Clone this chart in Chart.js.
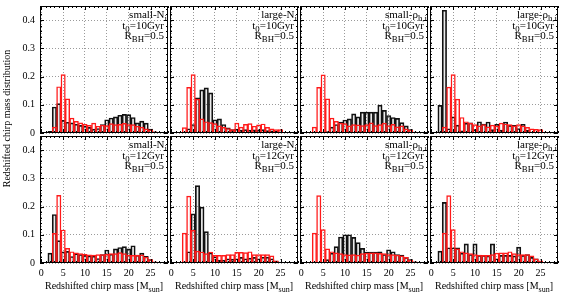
<!DOCTYPE html>
<html>
<head>
<meta charset="utf-8">
<script src="https://cdn.jsdelivr.net/npm/chart.js@4"></script>
<style>
  body { margin: 0; background: #fff; width: 563px; height: 292px; overflow: hidden; position: relative; }
  canvas { position: absolute; }
</style>
</head>
<body>
<canvas id="ytitle" width="16" height="292" style="left:0;top:0"></canvas>
<script>
// bin centres (chirp mass, 1 Msun bins)
const massBins = [1, 2, 3, 4, 5, 6, 7, 8, 9, 10, 11, 12, 13, 14, 15, 16, 17, 18, 19, 20, 21, 22, 23, 24, 25, 26, 27];
const xTicks = [0, 5, 10, 15, 20, 25];
const yTicks = [0, 0.1, 0.2, 0.3, 0.4];

const modelNames = ['small-N', 'large-N', 'small-ρ', 'large-ρ'];
const modelSubs = ['i', 'i', 'h,i', 'h,i'];
const ages = ['10Gyr', '12Gyr'];
const yTitle = 'Redshifted chirp mass distribution';

// t0 = 10 Gyr, black = model, red = comparison
const smallN10 = [0, 0.006, 0.092, 0.104, 0.045, 0.038, 0.036, 0.031, 0.027, 0.024, 0.02, 0.014, 0.016, 0.03, 0.047, 0.053, 0.057, 0.063, 0.066, 0.065, 0.055, 0.036, 0.042, 0.035, 0.014, 0.004, 0];
const redSmallN10 = [0, 0, 0.021, 0.164, 0.207, 0.121, 0.053, 0.041, 0.036, 0.031, 0.027, 0.035, 0.024, 0.028, 0.026, 0.033, 0.03, 0.031, 0.034, 0.03, 0.03, 0.024, 0.021, 0.015, 0.011, 0.004, 0];
const largeN10 = [0, 0, 0.003, 0.015, 0.03, 0.125, 0.153, 0.16, 0.142, 0.047, 0.05, 0.03, 0.018, 0.012, 0.014, 0.01, 0.012, 0.01, 0.011, 0.01, 0.012, 0.009, 0.008, 0.006, 0.004, 0.002, 0];
const redLargeN10 = [0, 0, 0.019, 0.162, 0.207, 0.12, 0.05, 0.04, 0.037, 0.033, 0.025, 0.02, 0.016, 0.012, 0.035, 0.021, 0.031, 0.033, 0.024, 0.029, 0.032, 0.02, 0.015, 0.012, 0.012, 0.002, 0];
const smallRho10 = [0, 0, 0, 0, 0.003, 0.005, 0.021, 0.03, 0.039, 0.046, 0.05, 0.068, 0.057, 0.074, 0.074, 0.074, 0.074, 0.099, 0.08, 0.062, 0.055, 0.052, 0.037, 0.025, 0.012, 0.003, 0];
const redSmallRho10 = [0, 0, 0.021, 0.162, 0.206, 0.121, 0.053, 0.041, 0.035, 0.033, 0.025, 0.03, 0.029, 0.026, 0.03, 0.036, 0.026, 0.03, 0.035, 0.026, 0.031, 0.022, 0.025, 0.015, 0.01, 0.003, 0];
const largeRho10 = [0, 0.098, 0.435, 0.015, 0.057, 0.028, 0.008, 0.035, 0.036, 0.012, 0.04, 0.032, 0.039, 0.012, 0.031, 0.01, 0.039, 0.027, 0.027, 0.016, 0.031, 0.01, 0.003, 0, 0, 0, 0];
const redLargeRho10 = [0, 0, 0.021, 0.163, 0.207, 0.12, 0.055, 0.04, 0.035, 0.03, 0.025, 0.03, 0.022, 0.028, 0.025, 0.035, 0.032, 0.03, 0.025, 0.03, 0.025, 0.02, 0.015, 0.013, 0.012, 0.003, 0];

// t0 = 12 Gyr
const smallN12 = [0, 0.035, 0.172, 0.079, 0.04, 0.041, 0.023, 0.033, 0.03, 0.027, 0.025, 0.024, 0.016, 0.03, 0.046, 0.031, 0.05, 0.055, 0.058, 0.05, 0.061, 0.028, 0.035, 0.024, 0.012, 0.003, 0];
const redSmallN12 = [0, 0.002, 0.105, 0.24, 0.117, 0.052, 0.04, 0.036, 0.033, 0.031, 0.029, 0.028, 0.03, 0.03, 0.031, 0.033, 0.033, 0.037, 0.033, 0.028, 0.027, 0.027, 0.029, 0.021, 0.012, 0.004, 0];
const largeN12 = [0, 0, 0.004, 0.04, 0.174, 0.274, 0.198, 0.111, 0.036, 0.022, 0.01, 0.01, 0.015, 0.014, 0.015, 0.02, 0.015, 0.017, 0.02, 0.015, 0.021, 0.021, 0.015, 0.007, 0.003, 0, 0];
const redLargeN12 = [0, 0, 0.106, 0.237, 0.116, 0.042, 0.039, 0.033, 0.039, 0.027, 0.027, 0.027, 0.03, 0.03, 0.038, 0.038, 0.037, 0.04, 0.03, 0.03, 0.03, 0.03, 0.025, 0.008, 0.002, 0, 0];
const smallRho12 = [0, 0, 0, 0, 0.003, 0.012, 0.035, 0.058, 0.092, 0.1, 0.1, 0.091, 0.072, 0.052, 0.039, 0.039, 0.039, 0.04, 0.03, 0.047, 0.04, 0.03, 0.028, 0.02, 0.012, 0.004, 0];
const redSmallRho12 = [0, 0, 0.106, 0.239, 0.118, 0.05, 0.04, 0.036, 0.033, 0.03, 0.029, 0.03, 0.028, 0.033, 0.035, 0.036, 0.036, 0.034, 0.033, 0.03, 0.03, 0.028, 0.025, 0.02, 0.01, 0.004, 0];
const largeRho12 = [0, 0.042, 0.215, 0.054, 0.054, 0.054, 0.035, 0.068, 0.03, 0.068, 0.027, 0.027, 0.025, 0.068, 0.015, 0.027, 0.027, 0.027, 0.025, 0.056, 0.027, 0.03, 0.02, 0.015, 0.005, 0, 0];
const redLargeRho12 = [0, 0, 0.106, 0.239, 0.118, 0.05, 0.04, 0.036, 0.033, 0.03, 0.028, 0.027, 0.027, 0.03, 0.035, 0.036, 0.036, 0.04, 0.033, 0.03, 0.03, 0.03, 0.025, 0.015, 0.008, 0, 0];

const modelRows = [
  [smallN10, largeN10, smallRho10, largeRho10],
  [smallN12, largeN12, smallRho12, largeRho12]
];
const redRows = [
  [redSmallN10, redLargeN10, redSmallRho10, redLargeRho10],
  [redSmallN12, redLargeN12, redSmallRho12, redLargeRho12]
];

const FONT = '"Liberation Serif", "Times New Roman", serif';
Chart.defaults.font.family = FONT;
Chart.defaults.font.size = 10;
Chart.defaults.color = '#000';
Chart.defaults.animation = false;

// shared y title, rotated
(function () {
  const ctx = document.getElementById('ytitle').getContext('2d');
  ctx.save();
  ctx.translate(7, 118.5);
  ctx.rotate(-Math.PI / 2);
  ctx.font = '10px ' + FONT;
  ctx.fillStyle = '#000';
  ctx.textAlign = 'center';
  ctx.textBaseline = 'middle';
  ctx.fillText(yTitle, 0, 0);
  ctx.restore();
})();

// text with subscripts: parts = [[text, isSub], ...]
function drawRich(ctx, parts, x, y, size, align) {
  const fontOf = sub => (sub ? size * 0.8 : size) + 'px ' + FONT;
  const widths = parts.map(([t, sub]) => { ctx.font = fontOf(sub); return ctx.measureText(t).width; });
  const total = widths.reduce((a, b) => a + b, 0);
  let cx = align === 'right' ? x - total : align === 'center' ? x - total / 2 : x;
  parts.forEach(([t, sub], i) => {
    ctx.font = fontOf(sub);
    ctx.fillText(t, cx, sub ? y + size * 0.3 : y);
    cx += widths[i];
  });
}

// frame, inward ticks on all sides, panel text
const panelDecor = {
  id: 'panelDecor',
  afterDraw(chart, args, opts) {
    const { ctx, chartArea: a, scales: { x, y } } = chart;
    ctx.save();
    ctx.strokeStyle = '#000';
    ctx.lineWidth = 1;
    ctx.strokeRect(a.left + 0.5, a.top + 0.5, a.width - 1, a.height - 1);
    ctx.beginPath();
    for (let v = 0; v <= x.max; v++) {
      const px = Math.round(x.getPixelForValue(v)) + 0.5;
      const len = v % 5 === 0 ? 4 : 2;
      ctx.moveTo(px, a.bottom); ctx.lineTo(px, a.bottom - len);
      ctx.moveTo(px, a.top); ctx.lineTo(px, a.top + len);
    }
    for (let k = 0; k * 0.02 <= y.max; k++) {
      const py = Math.round(y.getPixelForValue(k * 0.02)) + 0.5;
      const len = k % 5 === 0 ? 4 : 2;
      ctx.moveTo(a.left, py); ctx.lineTo(a.left + len, py);
      ctx.moveTo(a.right, py); ctx.lineTo(a.right - len, py);
    }
    ctx.stroke();

    ctx.fillStyle = '#000';
    ctx.textBaseline = 'alphabetic';
    drawRich(ctx, opts.lines[0], a.right - 1, a.top + 12, 11, 'right');
    drawRich(ctx, opts.lines[1], a.right - 4, a.top + 22.5, 11, 'right');
    drawRich(ctx, opts.lines[2], a.right - 4, a.top + 33, 11, 'right');
    if (opts.xTitle) {
      drawRich(ctx, opts.xTitle, (a.left + a.right) / 2, a.bottom + 26, 10, 'center');
    }
    ctx.restore();
  }
};

const AREA_W = 128, AREA_H = 127;
const areaLefts = [40, 170, 300, 430];
const areaTops = [6, 136];

for (let r = 0; r < 2; r++) {
  for (let c = 0; c < 4; c++) {
    const padT = 4, padR = 4;
    const padL = c === 0 ? 40 : 4;
    const padB = r === 1 ? 30 : 8;
    const canvas = document.createElement('canvas');
    canvas.width = padL + AREA_W + padR;
    canvas.height = padT + AREA_H + padB;
    canvas.style.left = (areaLefts[c] - padL) + 'px';
    canvas.style.top = (areaTops[r] - padT) + 'px';
    document.body.appendChild(canvas);

    const toXY = arr => massBins.map((m, i) => ({ x: m, y: arr[i] }));

    new Chart(canvas.getContext('2d'), {
      type: 'bar',
      data: {
        datasets: [
          {
            label: 'comparison',
            data: toXY(redRows[r][c]),
            backgroundColor: 'rgba(255,0,0,0)',
            borderColor: '#ff1a1a',
            borderWidth: 0.8,
            order: 0
          },
          {
            label: 'model',
            data: toXY(modelRows[r][c]),
            backgroundColor: 'rgba(0,0,0,0.08)',
            borderColor: '#111111',
            borderWidth: 1,
            order: 1
          }
        ]
      },
      options: {
        responsive: false,
        devicePixelRatio: 1,
        layout: { padding: { top: padT, right: padR, left: 0, bottom: 0 } },
        datasets: { bar: { grouped: false, barPercentage: 1, categoryPercentage: 1 } },
        scales: {
          x: {
            type: 'linear',
            min: -0.3,
            max: 29,
            offset: false,
            grid: { offset: false, color: '#9a9a9a', drawTicks: false },
            border: { display: false, dash: [1, 2] },
            ticks: {
              display: r === 1,
              stepSize: 5,
              includeBounds: false,
              padding: 4,
              maxRotation: 0,
              autoSkip: false,
              callback: v => xTicks.includes(v) ? String(v) : ''
            },
            afterFit(s) { s.height = padB; s.paddingLeft = 0; s.paddingRight = 0; }
          },
          y: {
            min: 0,
            max: 0.45,
            grid: { color: '#9a9a9a', drawTicks: false },
            border: { display: false, dash: [1, 2] },
            ticks: {
              display: c === 0,
              stepSize: 0.1,
              includeBounds: false,
              padding: 5,
              callback: v => {
                const t = yTicks.find(k => Math.abs(k - v) < 1e-6);
                return t === undefined ? '' : (t === 0 ? '0' : t.toFixed(1));
              }
            },
            afterFit(s) { s.width = padL; s.paddingTop = 0; s.paddingBottom = 0; }
          }
        },
        plugins: {
          legend: { display: false },
          tooltip: { enabled: false },
          panelDecor: {
            lines: [
              [[modelNames[c], false], [modelSubs[c], true]],
              [['t', false], ['0', true], ['=' + ages[r], false]],
              [['R', false], ['BH', true], ['=0.5', false]]
            ],
            xTitle: r === 1 ? [['Redshifted chirp mass [M', false], ['sun', true], [']', false]] : null
          }
        }
      },
      plugins: [panelDecor]
    });
  }
}
</script>
</body>
</html>
